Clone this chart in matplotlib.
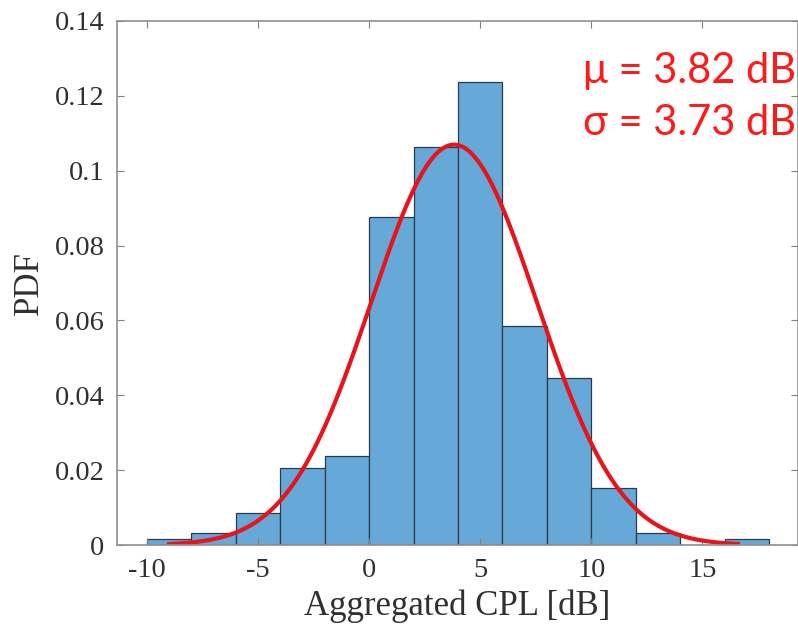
import numpy as np
import matplotlib.pyplot as plt

# histogram data (bin edges in dB, PDF-normalised heights)
bin_edges = [-10, -8, -6, -4, -2, 0, 2, 4, 6, 8, 10, 12, 14, 16, 18]
pdf_vals = [0.0016, 0.0033, 0.0085, 0.0206, 0.0238, 0.0876, 0.1063,
            0.1237, 0.0585, 0.0446, 0.0153, 0.0033, 0.0, 0.0016]

# fitted normal
mu = 3.82
sigma = 3.73
fit_range = [-9.0, 16.6]

x_ticks = [-10, -5, 0, 5, 10, 15]
y_ticks = [0, 0.02, 0.04, 0.06, 0.08, 0.1, 0.12, 0.14]
y_ticklabels = ['0', '0.02', '0.04', '0.06', '0.08', '0.1', '0.12', '0.14']

plt.rcParams['font.family'] = ['Liberation Serif']
plt.rcParams['axes.unicode_minus'] = False

fig = plt.figure(figsize=(7.98, 6.36), dpi=100)
ax = fig.add_axes([0.1466, 0.143, 0.8534, 0.824])

edges = np.array(bin_edges, dtype=float)
ax.bar(edges[:-1], pdf_vals, width=np.diff(edges), align='edge',
       color='#66a9d8', edgecolor='#2a3a4a', linewidth=0.9)

xf = np.linspace(fit_range[0], fit_range[1], 400)
yf = np.exp(-0.5*((xf - mu)/sigma)**2) / (sigma*np.sqrt(2*np.pi))
ax.plot(xf, yf, color='#e8141c', linewidth=3)

ax.set_xlim(-11.35, 19.3)
ax.set_ylim(0, 0.14)
ax.set_xticks(x_ticks)
ax.set_yticks(y_ticks)
ax.set_yticklabels(y_ticklabels)
ax.tick_params(direction='in', top=True, right=True, length=5,
               width=0.8, color='#808080', labelsize=20.5,
               labelcolor='#303030', pad=9)
for s in ax.spines.values():
    s.set_color('#909090')
    s.set_linewidth(1.2)

ax.set_xlabel('Aggregated CPL [dB]', fontsize=25, color='#303030', labelpad=5)
ax.set_ylabel('PDF', fontsize=25, color='#303030', labelpad=6)

ax.text(0.997, 0.905, '\u03bc = %.2f dB' % mu, transform=ax.transAxes,
        ha='right', va='center', fontsize=30, color='#ff1a1a',
        family=['Lato', 'DejaVu Sans'])
ax.text(0.997, 0.805, '\u03c3 = %.2f dB' % sigma, transform=ax.transAxes,
        ha='right', va='center', fontsize=30, color='#ff1a1a',
        family=['Lato', 'DejaVu Sans'])

fig.savefig('out.png', dpi=100)
